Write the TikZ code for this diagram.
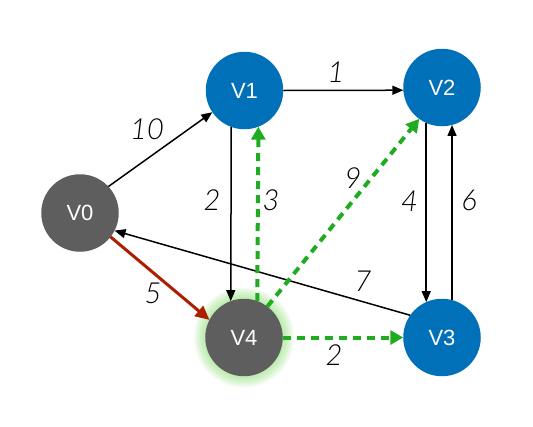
\documentclass[tikz,border=0pt]{standalone}
\usepackage{fontspec}
\setmainfont{Liberation Sans}
\newfontfamily\lblfont{Lato}[UprightFont={* Light Italic}]
\usetikzlibrary{arrows.meta}
\definecolor{vblue}{RGB}{0,112,184}
\definecolor{vgray}{RGB}{94,94,94}
\definecolor{egreen}{RGB}{32,172,32}
\definecolor{ered}{RGB}{172,32,0}
\definecolor{glowc}{RGB}{110,220,80}
\tikzset{
  vtx/.style={circle, minimum size=77.5pt, inner sep=0pt, outer sep=0pt, text=white, font=\fontsize{22}{22}\selectfont},
  bluev/.style={vtx, fill=vblue},
  grayv/.style={vtx, fill=vgray},
  bedge/.style={line width=1.5pt, -{Triangle[length=11pt,width=9pt]}},
  gedge/.style={line width=4pt, egreen, dash pattern=on 8pt off 6pt, -{Triangle[length=13pt,width=14pt]}},
  redge/.style={line width=3pt, ered, -{Triangle[length=14pt,width=13pt]}},
  elabel/.style={font=\lblfont\fontsize{29}{29}\selectfont, inner sep=0pt}
}
\begin{document}
\begin{tikzpicture}[x=1pt,y=-1pt]
\useasboundingbox (0,0) rectangle (533,426);
\fill[white] (0,0) rectangle (533,426);
% glow
\coordinate (g4) at (244,337.5);
\foreach \r in {50,48.5,47,45.5,44,42.5,41}
  \fill[glowc, opacity=0.07] (g4) circle (\r);
\node[grayv] (V0) at (80,213) {V0};
\node[bluev] (V1) at (244.5,90.5) {V1};
\node[bluev] (V2) at (442,87.5) {V2};
\node[bluev] (V3) at (442,337.5) {V3};
\node[grayv] (V4) at (g4) {V4};
% edges
\draw[bedge] (V0.43) -- (V1.214);
\draw[bedge] (V1.east) -- (V2.184);
\draw[bedge] (V1.250) -- (V4.110);
\draw[bedge] (V2.246) -- (V3.114);
\draw[bedge] (V3.75) -- (V2.285);
\draw[bedge] (V3.145) -- (V0.-27);
\draw[redge] (V0.-38) -- (V4.153);
\draw[gedge] (V4.70) -- (V1.291);
\draw[gedge] (V4.53) -- (V2.234);
\draw[gedge] (V4.east) -- (V3.west);
% labels
\node[elabel] (l01) at (147,129) {10};
\node[elabel] (l12) at (336,72) {1};
\node[elabel] (l14) at (212,200) {2};
\node[elabel] (l41) at (271,200) {3};
\node[elabel] (l42) at (353,178) {9};
\node[elabel] (l23) at (409.5,201.5) {4};
\node[elabel] (l32) at (469,200) {6};
\node[elabel] (l04) at (153,293) {5};
\node[elabel] (l30) at (363,281) {7};
\node[elabel] (l43) at (334,355.5) {2};
\end{tikzpicture}
\end{document}
